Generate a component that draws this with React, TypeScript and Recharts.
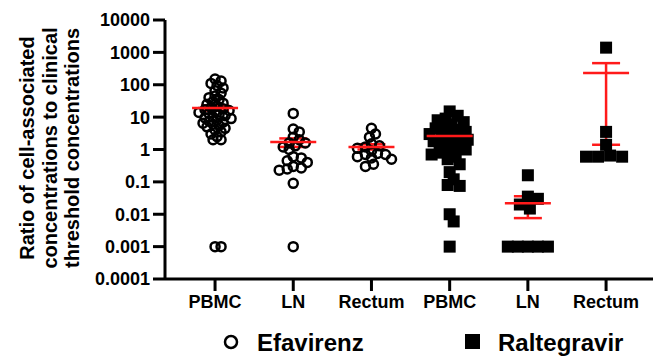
import React from 'react';
import { ScatterChart, Scatter, XAxis, YAxis, ErrorBar } from 'recharts';

const categories = ['PBMC', 'LN', 'Rectum', 'PBMC', 'LN', 'Rectum'];
const yTicks = [0.0001, 0.001, 0.01, 0.1, 1, 10, 100, 1000, 10000];

// Efavirenz (open circles)
const efavirenzPBMC = [
  150, 130, 110, 95, 80, 65, 55, 45, 40, 35, 30, 27, 25, 22, 20, 18, 17, 16, 15, 14,
  13, 12, 11, 10, 9.5, 9, 8, 7.5, 7, 6.5, 6, 5.5, 5, 4.5, 4, 3.5, 3, 2.5, 2, 2, 0.001, 0.001,
];
const efavirenzLN = [13, 4.3, 3.5, 2.4, 2, 1.6, 1.6, 1.3, 1.2, 1, 0.6, 0.55, 0.45, 0.4, 0.3, 0.27, 0.25, 0.23, 0.09, 0.001];
const efavirenzRectum = [4.5, 3, 2.4, 1.5, 1.3, 1.2, 1.1, 0.9, 0.75, 0.7, 0.7, 0.6, 0.55, 0.5, 0.35, 0.3];

// Raltegravir (filled squares)
const raltegravirPBMC = [
  15, 11, 9, 8, 7, 6, 5, 4.5, 4, 3.5, 3, 3, 2.6, 2.3, 2, 1.8, 1.6, 1.4, 1.2, 1, 0.9, 0.8,
  0.7, 0.6, 0.5, 0.35, 0.2, 0.12, 0.08, 0.075, 0.01, 0.006, 0.001,
];
const raltegravirLN = [0.16, 0.035, 0.03, 0.02, 0.015, 0.001, 0.001, 0.001, 0.001, 0.001];
const raltegravirRectum = [1400, 3.5, 1.4, 0.65, 0.6, 0.6, 0.6];

// mean +/- SEM per group, in category order
const groupMeans = [19, 1.7, 1.2, 2.6, 0.022, 230];
const semLow = [16, 1.2, 1.0, 2.0, 0.0076, 1.4];
const semHigh = [23, 2.2, 1.45, 3.2, 0.036, 465];

const PX_PER_GROUP = 78;
const PX_PER_DECADE = 32.4;

// simple beeswarm so points in a group spread sideways a bit
const swarm = (values: number[], pos: number, minDist: number) => {
  const placed: { dx: number; py: number }[] = [];
  const sorted = [...values].sort((a, b) => b - a);
  return sorted.map((v) => {
    const py = Math.log10(v) * PX_PER_DECADE;
    let dx = 0;
    for (let k = 0; k < 80; k++) {
      const cand = k === 0 ? 0 : (k % 2 ? 1 : -1) * Math.ceil(k / 2) * 2;
      if (placed.every((p) => (p.dx - cand) ** 2 + (p.py - py) ** 2 >= minDist * minDist)) {
        dx = cand;
        break;
      }
    }
    placed.push({ dx, py });
    return { x: pos + dx / PX_PER_GROUP, y: v };
  });
};

const efavirenzData = [
  ...swarm(efavirenzPBMC, 1, 5),
  ...swarm(efavirenzLN, 2, 6.5),
  ...swarm(efavirenzRectum, 3, 6.5),
];
const raltegravirData = [
  ...swarm(raltegravirPBMC, 4, 8),
  ...swarm(raltegravirLN, 5, 10),
  ...swarm(raltegravirRectum, 6, 11),
];

const meanData = groupMeans.map((m, i) => ({
  x: i + 1,
  y: m,
  err: [m - semLow[i], semHigh[i] - m],
}));

const font = '"Liberation Sans", Arial, sans-serif';
const RED = '#ff1a1a';

const OpenCircle = (props: any) => (
  <circle cx={props.cx} cy={props.cy} r={4.5} fill="none" stroke="#000" strokeWidth={2.5} />
);
const FilledSquare = (props: any) => (
  <rect x={props.cx - 6} y={props.cy - 6} width={12} height={12} fill="#000" />
);
const MeanLine = (props: any) => (
  <line x1={props.cx - 23} x2={props.cx + 23} y1={props.cy} y2={props.cy} stroke={RED} strokeWidth={2.5} />
);

export default function App() {
  return (
    <div style={{ position: 'absolute', left: 0, top: 0, width: 653, height: 356, background: '#fff' }}>
      <ScatterChart width={653} height={356} margin={{ top: 20, right: 0, bottom: 0, left: 0 }}>
        <XAxis
          type="number"
          dataKey="x"
          domain={[0.36, 6.6]}
          ticks={[1, 2, 3, 4, 5, 6]}
          tickFormatter={(v: number) => categories[Math.round(v) - 1] ?? ''}
          height={77}
          tickSize={12}
          tickMargin={4}
          axisLine={{ stroke: '#000', strokeWidth: 3 }}
          tickLine={{ stroke: '#000', strokeWidth: 3 }}
          tick={{ fill: '#000', fontSize: 18, fontWeight: 'bold', fontFamily: font }}
          allowDataOverflow
        />
        <YAxis
          type="number"
          dataKey="y"
          scale="log"
          domain={[0.0001, 10000]}
          ticks={yTicks}
          tickFormatter={(v: number) => String(v)}
          width={165}
          tickSize={12}
          tickMargin={3}
          axisLine={{ stroke: '#000', strokeWidth: 3 }}
          tickLine={{ stroke: '#000', strokeWidth: 3 }}
          tick={{ fill: '#000', fontSize: 18, fontWeight: 'bold', fontFamily: font }}
          allowDataOverflow
          interval={0}
        />
        <Scatter name="Efavirenz" data={efavirenzData} shape={OpenCircle} isAnimationActive={false} />
        <Scatter name="Raltegravir" data={raltegravirData} shape={FilledSquare} isAnimationActive={false} />
        <Scatter name="Mean" data={meanData} shape={MeanLine} isAnimationActive={false}>
          <ErrorBar
            dataKey="err"
            direction="y"
            width={14}
            stroke={RED}
            strokeWidth={2.5}
            isAnimationActive={false}
          />
        </Scatter>
      </ScatterChart>
      <svg
        width={653}
        height={356}
        style={{ position: 'absolute', left: 0, top: 0, pointerEvents: 'none' }}
        fontFamily={font}
        fontWeight="bold"
      >
        <g transform="translate(0,148) rotate(-90)" fontSize={20} fill="#000">
          <text x={0} y={27} textAnchor="middle" dominantBaseline="central">Ratio of cell-associated</text>
          <text x={0} y={50} textAnchor="middle" dominantBaseline="central">concentrations to clinical</text>
          <text x={0} y={72} textAnchor="middle" dominantBaseline="central">threshold concentrations</text>
        </g>
        <circle cx={231} cy={342} r={6} fill="none" stroke="#000" strokeWidth={2.5} />
        <text x={257} y={351} fontSize={24} fill="#000">Efavirenz</text>
        <rect x={465} y={334} width={15} height={15} fill="#000" />
        <text x={498} y={351} fontSize={24} fill="#000">Raltegravir</text>
      </svg>
    </div>
  );
}
